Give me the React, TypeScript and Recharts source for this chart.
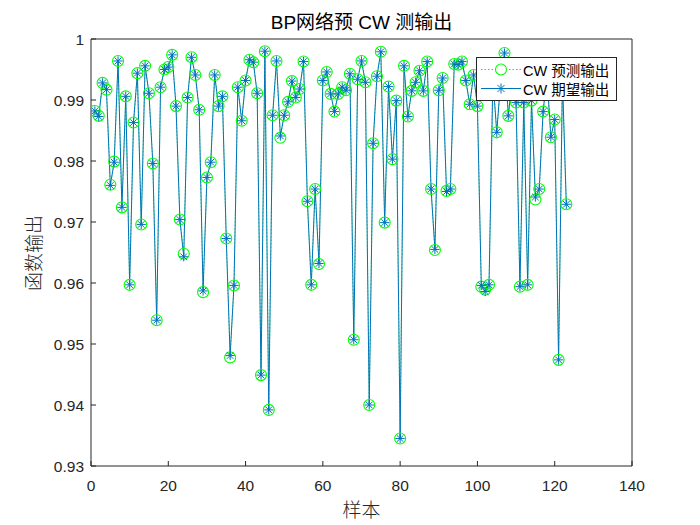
import React from 'react';
import { LineChart, Line, XAxis, YAxis, Legend } from 'recharts';

const expectedOutput: number[] = [
  0.9882, 0.9873, 0.9928, 0.9917, 0.976, 0.9798, 0.9964, 0.9724, 0.9906, 0.9597,
  0.9863, 0.9944, 0.9696, 0.9956, 0.9911, 0.9796, 0.9539, 0.9921, 0.995, 0.9954,
  0.9974, 0.989, 0.9704, 0.9643, 0.9904, 0.997, 0.9941, 0.9884, 0.9587, 0.9773,
  0.9798, 0.9941, 0.989, 0.9906, 0.9673, 0.9481, 0.9596, 0.9921, 0.9866, 0.9932,
  0.9966, 0.9962, 0.9911, 0.9449, 0.998, 0.9392, 0.9875, 0.9964, 0.9841, 0.9875,
  0.9897, 0.9931, 0.9904, 0.9918, 0.9963, 0.9734, 0.9597, 0.9754, 0.9632, 0.9932,
  0.9946, 0.991, 0.9881, 0.991, 0.9921, 0.9916, 0.9943, 0.9507, 0.9934, 0.9964,
  0.9929, 0.94, 0.9829, 0.9939, 0.9979, 0.9699, 0.9922, 0.9803, 0.9899, 0.9345,
  0.9956, 0.9873, 0.9915, 0.9929, 0.9948, 0.9915, 0.9963, 0.9754, 0.9655, 0.9916,
  0.9936, 0.975, 0.9754, 0.9959, 0.9958, 0.9963, 0.9932, 0.9893, 0.9941, 0.989,
  0.9596, 0.9586, 0.9597, 0.9935, 0.9847, 0.993, 0.9977, 0.9874, 0.9935, 0.9896,
  0.9594, 0.9896, 0.9597, 0.9899, 0.9741, 0.9754, 0.9881, 0.994, 0.9839, 0.9868,
  0.9474, 0.9935, 0.9729,
];

const predictedOutput: number[] = [
  0.9882, 0.9874, 0.9928, 0.9917, 0.9761, 0.9799, 0.9964, 0.9724, 0.9906, 0.9597,
  0.9863, 0.9944, 0.9696, 0.9956, 0.9911, 0.9796, 0.9539, 0.9921, 0.995, 0.9954,
  0.9974, 0.989, 0.9704, 0.9648, 0.9904, 0.997, 0.9941, 0.9884, 0.9585, 0.9773,
  0.9798, 0.9941, 0.989, 0.9906, 0.9673, 0.9478, 0.9596, 0.9921, 0.9866, 0.9932,
  0.9966, 0.9962, 0.9911, 0.9449, 0.998, 0.9392, 0.9875, 0.9964, 0.9838, 0.9875,
  0.9897, 0.9931, 0.9904, 0.9918, 0.9963, 0.9734, 0.9597, 0.9754, 0.9631, 0.9932,
  0.9946, 0.991, 0.9881, 0.991, 0.9921, 0.9916, 0.9943, 0.9507, 0.9934, 0.9964,
  0.9929, 0.94, 0.9829, 0.9939, 0.9979, 0.9699, 0.9922, 0.9803, 0.9899, 0.9345,
  0.9956, 0.9873, 0.9915, 0.9929, 0.9948, 0.9915, 0.9963, 0.9754, 0.9654, 0.9916,
  0.9936, 0.9751, 0.9754, 0.9959, 0.9958, 0.9963, 0.9932, 0.9893, 0.9941, 0.989,
  0.9594, 0.9589, 0.9597, 0.9935, 0.9847, 0.993, 0.9977, 0.9874, 0.9935, 0.9896,
  0.9594, 0.9896, 0.9597, 0.9899, 0.9737, 0.9754, 0.9881, 0.994, 0.9839, 0.9868,
  0.9474, 0.9935, 0.9729,
];

const xTicks = [0, 20, 40, 60, 80, 100, 120, 140];
const yTicks = [0.93, 0.94, 0.95, 0.96, 0.97, 0.98, 0.99, 1];
const seriesNames = ['CW 预测输出', 'CW 期望输出'];
const titleText = 'BP网络预 CW 测输出';
const xLabelText = '样本';
const yLabelText = '函数输出';

const data = expectedOutput.map((v, i) => ({
  sample: i + 1,
  expected: v,
  predicted: predictedOutput[i],
}));

const BLUE = '#0072BD';
const GREEN = '#00FF00';
const AXIS = '#262626';
const SANS = "'Liberation Sans', Arial, 'Noto Sans CJK SC', sans-serif";
const CJK = "'Noto Sans CJK SC', 'Liberation Sans', sans-serif";

function AsteriskShape({ cx, cy, r = 4.6 }: { cx: number; cy: number; r?: number }) {
  const d = r * 0.7071;
  return (
    <g stroke={BLUE} strokeWidth={1} fill="none">
      <line x1={cx - r} y1={cy} x2={cx + r} y2={cy} />
      <line x1={cx} y1={cy - r} x2={cx} y2={cy + r} />
      <line x1={cx - d} y1={cy - d} x2={cx + d} y2={cy + d} />
      <line x1={cx - d} y1={cy + d} x2={cx + d} y2={cy - d} />
    </g>
  );
}

function AsteriskDot(props: any) {
  const { cx, cy, index } = props;
  if (cx == null || cy == null) return <g key={`a-${index}`} />;
  return (
    <g key={`a-${index}`}>
      <AsteriskShape cx={cx} cy={cy} />
    </g>
  );
}

function CircleDot(props: any) {
  const { cx, cy, index } = props;
  if (cx == null || cy == null) return <g key={`c-${index}`} />;
  return (
    <circle
      key={`c-${index}`}
      cx={cx}
      cy={cy}
      r={5.5}
      stroke={GREEN}
      strokeWidth={1.1}
      fill="none"
    />
  );
}

function LegendBox() {
  const row = (i: number) => (
    <div key={i} style={{ display: 'flex', alignItems: 'center', height: 19 }}>
      <svg width={45} height={19} style={{ display: 'block' }}>
        {i === 0 ? (
          <g>
            <line x1={4} y1={9.5} x2={44} y2={9.5} stroke={GREEN} strokeWidth={1} strokeDasharray="1.5 2" />
            <circle cx={24} cy={9.5} r={5.5} stroke={GREEN} strokeWidth={1.1} fill="#fff" />
          </g>
        ) : (
          <g>
            <line x1={4} y1={9.5} x2={44} y2={9.5} stroke={BLUE} strokeWidth={1} />
            <AsteriskShape cx={24} cy={9.5} r={5} />
          </g>
        )}
      </svg>
      <span style={{ marginLeft: 1, whiteSpace: 'nowrap' }}>{seriesNames[i]}</span>
    </div>
  );
  return (
    <div
      style={{
        width: 141,
        height: 44,
        boxSizing: 'border-box',
        border: `1px solid ${AXIS}`,
        background: '#fff',
        fontFamily: SANS,
        fontSize: 14.5,
        color: '#000',
        paddingTop: 2,
      }}
    >
      {row(0)}
      {row(1)}
    </div>
  );
}

const fmtY = (v: number) => (Math.abs(v - 1) < 1e-9 ? '1' : v.toFixed(2));

export default function App() {
  return (
    <div style={{ position: 'absolute', left: 0, top: 0, width: 700, height: 525, background: '#fff', overflow: 'hidden' }}>
      <LineChart
        width={700}
        height={525}
        data={data}
        margin={{ top: 38, right: 67, bottom: 0, left: 0 }}
      >
        <XAxis
          dataKey="sample"
          type="number"
          domain={[0, 140]}
          ticks={xTicks}
          allowDataOverflow
          height={59}
          stroke={AXIS}
          tickSize={-5}
          tickMargin={19}
          tick={{ fill: AXIS, fontSize: 15.5, fontFamily: SANS }}
        />
        <XAxis
          xAxisId="top"
          orientation="top"
          type="number"
          domain={[0, 140]}
          ticks={xTicks}
          allowDataOverflow
          height={1}
          stroke={AXIS}
          tickSize={-5}
          tick={false}
        />
        <YAxis
          type="number"
          domain={[0.93, 1]}
          ticks={yTicks}
          allowDataOverflow
          width={91}
          stroke={AXIS}
          tickSize={-5}
          tickMargin={12}
          tickFormatter={fmtY}
          tick={{ fill: AXIS, fontSize: 15.5, fontFamily: SANS }}
        />
        <YAxis
          yAxisId="right"
          orientation="right"
          type="number"
          domain={[0.93, 1]}
          ticks={yTicks}
          allowDataOverflow
          width={1}
          stroke={AXIS}
          tickSize={-5}
          tick={false}
        />
        <Legend
          layout="vertical"
          align="center"
          verticalAlign="middle"
          content={() => <LegendBox />}
          wrapperStyle={{ position: 'absolute', left: 476, top: 57, width: 141, height: 44 }}
        />
        <Line
          dataKey="predicted"
          name={seriesNames[0]}
          stroke={GREEN}
          strokeWidth={0.8}
          strokeDasharray="1.5 2"
          dot={CircleDot}
          activeDot={false}
          isAnimationActive={false}
        />
        <Line
          dataKey="expected"
          name={seriesNames[1]}
          stroke={BLUE}
          strokeWidth={1}
          dot={AsteriskDot}
          activeDot={false}
          isAnimationActive={false}
        />
      </LineChart>
      <div
        style={{
          position: 'absolute',
          left: 91,
          width: 541,
          top: 10,
          height: 26,
          lineHeight: '26px',
          textAlign: 'center',
          fontFamily: SANS,
          fontSize: 19,
          color: '#000',
          whiteSpace: 'nowrap',
        }}
      >
        {titleText}
      </div>
      <div
        style={{
          position: 'absolute',
          left: 91,
          width: 541,
          top: 496,
          height: 26,
          lineHeight: '26px',
          textAlign: 'center',
          fontFamily: CJK,
          fontSize: 19,
          fontWeight: 300,
          color: AXIS,
          whiteSpace: 'nowrap',
        }}
      >
        {xLabelText}
      </div>
      <div
        style={{
          position: 'absolute',
          left: 33 - 60,
          top: 253 - 13,
          width: 120,
          height: 26,
          lineHeight: '26px',
          textAlign: 'center',
          fontFamily: CJK,
          fontSize: 19,
          fontWeight: 300,
          color: AXIS,
          whiteSpace: 'nowrap',
          transform: 'rotate(-90deg)',
        }}
      >
        {yLabelText}
      </div>
    </div>
  );
}
